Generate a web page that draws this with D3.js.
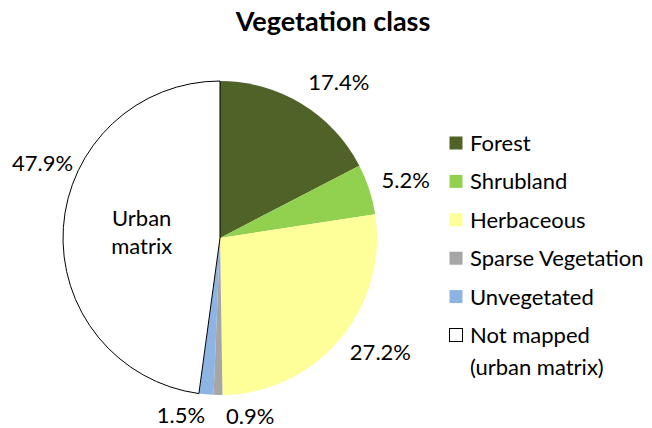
<!DOCTYPE html>
<html>
<head>
<meta charset="utf-8">
<script src="https://cdn.jsdelivr.net/npm/d3@7"></script>
<style>
  html, body { margin: 0; padding: 0; background: #fff; }
  text { font-family: Lato, "Open Sans", sans-serif; fill: #000; }
</style>
</head>
<body>
<svg id="chart" width="652" height="428"></svg>
<script>
// ---- data ----
const categories = ["Forest", "Shrubland", "Herbaceous", "Sparse Vegetation", "Unvegetated", "Not mapped (urban matrix)"];
const legendLines = [["Forest"], ["Shrubland"], ["Herbaceous"], ["Sparse Vegetation"], ["Unvegetated"], ["Not mapped", "(urban matrix)"]];
const values = [17.4, 5.2, 27.2, 0.9, 1.5, 47.9];
const valueLabels = ["17.4%", "5.2%", "27.2%", "0.9%", "1.5%", "47.9%"];
const colors = ["#4F6228", "#92D050", "#FFFF99", "#A6A6A6", "#8DB4E2", "#FFFFFF"];
const title = "Vegetation class";
const innerNote = ["Urban", "matrix"];

// ---- layout ----
const svg = d3.select("#chart");
const cx = 220, cy = 238, R = 157;
const fontSize = 22;

svg.append("text")
  .attr("x", 333).attr("y", 31)
  .attr("text-anchor", "middle")
  .attr("font-size", 27).attr("font-weight", "bold")
  .text(title);

const data = categories.map((c, i) => ({ name: c, value: values[i], label: valueLabels[i], color: colors[i], i }));
const pie = d3.pie().sort(null).value(d => d.value);
const arcs = pie(data);
const arc = d3.arc().innerRadius(0).outerRadius(R);

const g = svg.append("g").attr("transform", `translate(${cx},${cy})`);
g.selectAll("path.slice")
  .data(arcs)
  .enter().append("path")
  .attr("class", "slice")
  .attr("d", arc)
  .attr("fill", d => d.data.color)
  .attr("stroke", d => d.data.color === "#FFFFFF" ? "#000" : "none")
  .attr("stroke-width", 1);

// inner annotation at centroid of largest slice
const big = arcs[arcs.length - 1];
const cen = arc.centroid(big);
const note = g.append("text")
  .attr("text-anchor", "middle")
  .attr("font-size", fontSize);
innerNote.forEach((t, k) => {
  note.append("tspan")
    .attr("x", cen[0])
    .attr("y", cen[1] + (k - (innerNote.length - 1) / 2) * 28)
    .attr("dy", "0.35em")
    .text(t);
});

// value labels (outside end)
const labelR = 170;
const labelTweak = { 5: { angle: 295 * Math.PI / 180, r: 162 } };
const placed = [];
const labs = arcs.map(a => {
  let mid = (a.startAngle + a.endAngle) / 2;
  let r = labelR;
  if (labelTweak[a.data.i]) { mid = labelTweak[a.data.i].angle; r = labelTweak[a.data.i].r; }
  return { a, mid, r };
});
const tmp = g.append("g");
labs.forEach(l => {
  const t = tmp.append("text").attr("font-size", fontSize).text(l.a.data.label);
  const bb = t.node().getBBox();
  l.w = bb.width; l.h = 20;
  t.remove();
  const s = Math.sin(l.mid), c = Math.cos(l.mid);
  const px = l.r * s, py = -l.r * c;
  l.x = px + Math.sign(s) * l.w / 2;
  l.y = py - (l.h / 2) * c;
});
// resolve overlaps (process in reverse, push to the right)
const gap = 21;
for (let k = labs.length - 1; k >= 0; k--) {
  const l = labs[k];
  placed.forEach(p => {
    if (Math.abs(l.x - p.x) < (l.w + p.w) / 2 + gap && Math.abs(l.y - p.y) < (l.h + p.h) / 2) {
      l.x = p.x + (l.w + p.w) / 2 + gap;
    }
  });
  placed.push(l);
}
g.selectAll("text.val")
  .data(labs)
  .enter().append("text")
  .attr("class", "val")
  .attr("x", d => d.x)
  .attr("y", d => d.y - 2)
  .attr("dy", "0.36em")
  .attr("text-anchor", "middle")
  .attr("font-size", fontSize)
  .text(d => d.a.data.label);

// legend
const legend = svg.append("g").attr("transform", "translate(449,0)");
const rowY = d3.scalePoint().domain(d3.range(categories.length)).range([143, 335]);
const items = legend.selectAll("g.item")
  .data(data)
  .enter().append("g")
  .attr("class", "item")
  .attr("transform", d => `translate(0,${rowY(d.i)})`);
items.append("rect")
  .attr("x", 0.5).attr("y", -6.5)
  .attr("width", 13).attr("height", 13)
  .attr("fill", d => d.color)
  .attr("stroke", d => d.color === "#FFFFFF" ? "#000" : "none");
items.append("text")
  .attr("x", 21)
  .attr("font-size", fontSize)
  .each(function (d) {
    const sel = d3.select(this);
    legendLines[d.i].forEach((t, k) => {
      sel.append("tspan").attr("x", 21).attr("y", k * 32).attr("dy", "0.36em").text(t);
    });
  });
</script>
</body>
</html>
